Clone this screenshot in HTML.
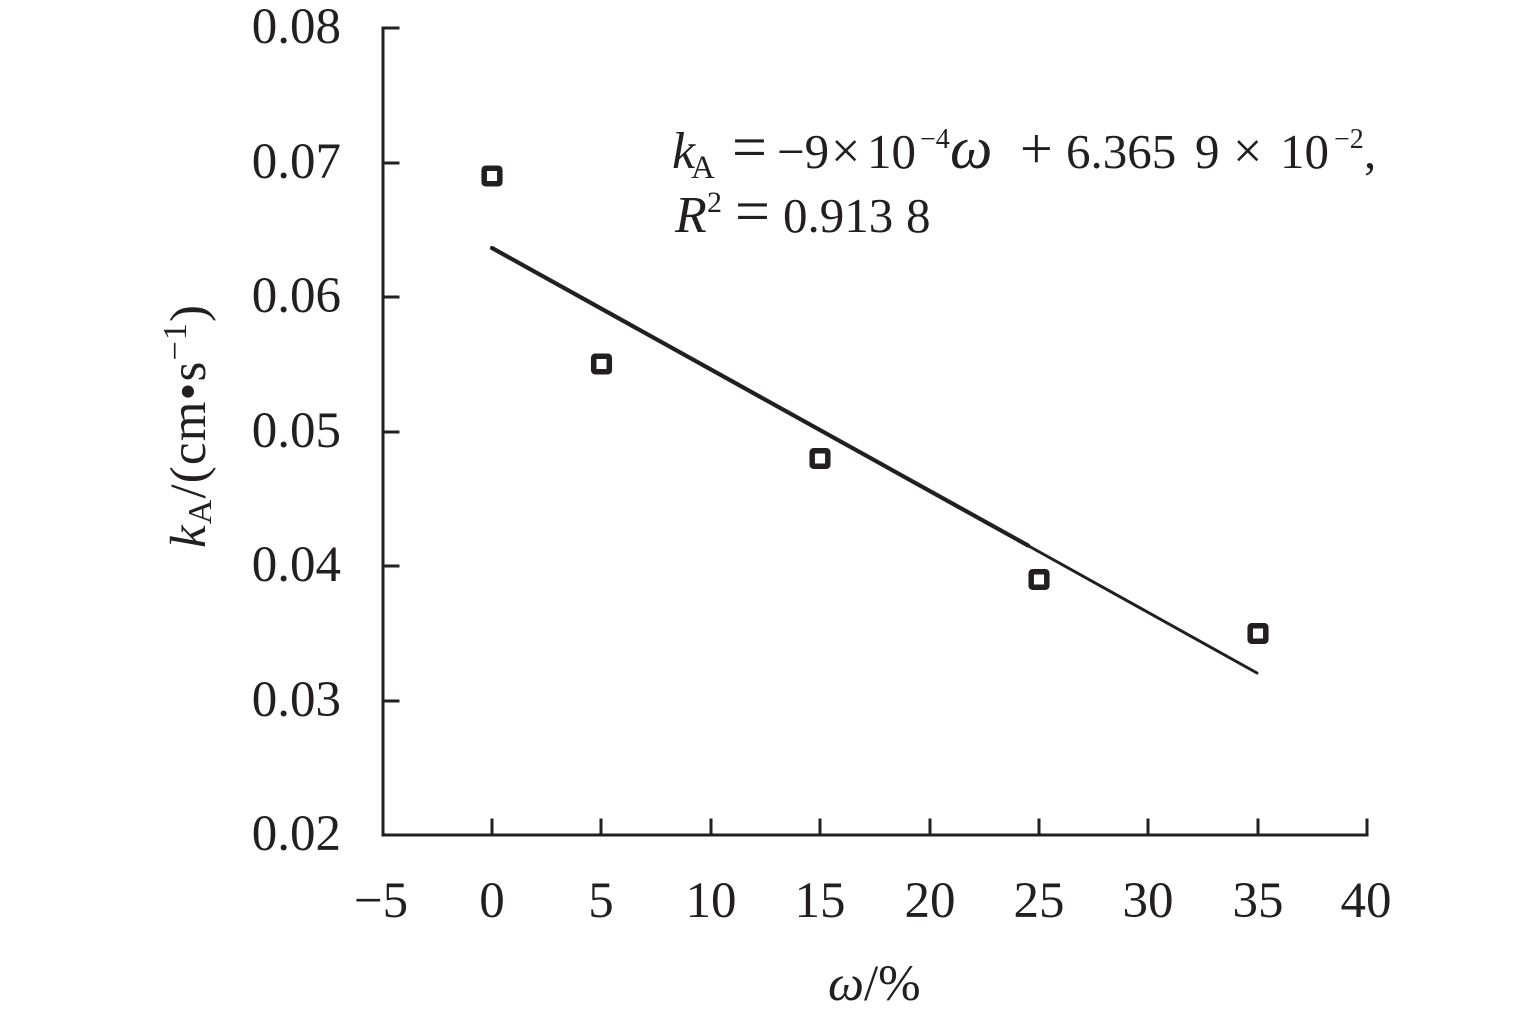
<!DOCTYPE html>
<html>
<head>
<meta charset="utf-8">
<style>
html,body{margin:0;padding:0;background:#fff;}
svg{display:block;}
text{font-family:"Liberation Serif","DejaVu Serif",serif;fill:#231f20;}
</style>
</head>
<body>
<svg width="1535" height="1016" viewBox="0 0 1535 1016" xmlns="http://www.w3.org/2000/svg">
  <rect width="1535" height="1016" fill="#fff"/>
  <!-- axes -->
  <g stroke="#231f20" stroke-width="3" fill="none" stroke-linecap="square">
    <path d="M398 28 H383 V835 H1367 V820"/>
    <path d="M383 163 H398 M383 297 H398 M383 432 H398 M383 566 H398 M383 701 H398"/>
    <path d="M492 835 V820 M601 835 V820 M711 835 V820 M820 835 V820 M930 835 V820 M1039 835 V820 M1148 835 V820 M1258 835 V820"/>
  </g>
  <!-- y tick labels -->
  <g font-size="51" text-anchor="end">
    <text x="341" y="43">0.08</text>
    <text x="341" y="178">0.07</text>
    <text x="341" y="312">0.06</text>
    <text x="341" y="447">0.05</text>
    <text x="341" y="581">0.04</text>
    <text x="341" y="716">0.03</text>
    <text x="341" y="850">0.02</text>
  </g>
  <!-- x tick labels -->
  <g font-size="51" text-anchor="middle">
    <text x="381" y="917">−5</text>
    <text x="492" y="917">0</text>
    <text x="601" y="917">5</text>
    <text x="711" y="917">10</text>
    <text x="820" y="917">15</text>
    <text x="930" y="917">20</text>
    <text x="1039" y="917">25</text>
    <text x="1148" y="917">30</text>
    <text x="1258" y="917">35</text>
    <text x="1366" y="917">40</text>
  </g>
  <!-- x label -->
  <text x="828" y="1000" font-size="51"><tspan font-style="italic">ω</tspan>/%</text>
  <!-- y label -->
  <text transform="translate(205,548) rotate(-90)" font-size="51" textLength="243" lengthAdjust="spacing"><tspan font-style="italic">k</tspan><tspan font-size="34" dy="6">A</tspan><tspan dy="-6">/(cm•s</tspan><tspan font-size="34" dy="-19">−1</tspan><tspan dy="19">)</tspan></text>
  <!-- trend line -->
  <line x1="492" y1="248" x2="1028" y2="545.5" stroke="#231f20" stroke-width="4.2" stroke-linecap="round"/>
  <line x1="1026" y1="544.5" x2="1257" y2="673" stroke="#231f20" stroke-width="3" stroke-linecap="round"/>
  <!-- markers -->
  <g fill="none" stroke="#231f20" stroke-width="5.5">
    <rect x="484.2" y="168.2" width="15.6" height="15.6" rx="1.5"/>
    <rect x="593.7" y="356.2" width="15.6" height="15.6" rx="1.5"/>
    <rect x="812.2" y="450.7" width="15.6" height="15.6" rx="1.5"/>
    <rect x="1031.2" y="571.7" width="15.6" height="15.6" rx="1.5"/>
    <rect x="1250.2" y="625.7" width="15.6" height="15.6" rx="1.5"/>
  </g>
  <!-- equation annotation -->
  <g font-size="49">
    <text y="168"><tspan x="672" font-style="italic" font-size="52">k</tspan><tspan x="691" y="178" font-size="33">A</tspan><tspan x="732" y="168" font-size="62">=</tspan><tspan x="777">−9</tspan><tspan x="831" font-size="52">×</tspan><tspan x="867">10</tspan><tspan x="920" y="148" font-size="28">−4</tspan><tspan x="950" y="168" font-style="italic" font-size="60">ω</tspan><tspan x="1020" font-size="58">+</tspan><tspan x="1066">6.365</tspan><tspan x="1195">9</tspan><tspan x="1233" font-size="52">×</tspan><tspan x="1280">10</tspan><tspan x="1334" y="148" font-size="28">−2</tspan><tspan x="1364" y="168">,</tspan></text>
    <text y="232"><tspan x="675" font-style="italic" font-size="52">R</tspan><tspan x="707" y="212" font-size="30">2</tspan><tspan x="735" y="232" font-size="62">=</tspan><tspan x="783">0.913</tspan><tspan x="906">8</tspan></text>
  </g>
</svg>
</body>
</html>
